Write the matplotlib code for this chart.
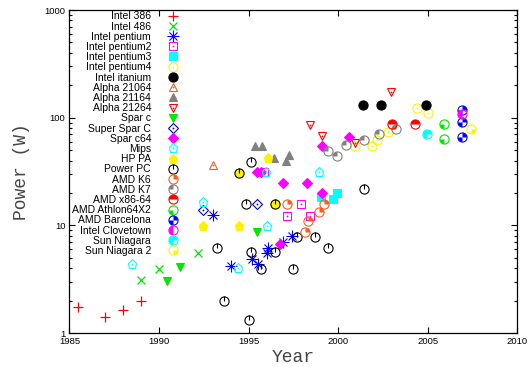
import numpy as np
import matplotlib
matplotlib.use("Agg")
import matplotlib.pyplot as plt
from matplotlib.path import Path
from matplotlib.ticker import FixedLocator, LogLocator, NullFormatter, FixedFormatter

plt.rcParams['font.family'] = ['Liberation Sans', 'DejaVu Sans']

# year / power (W) per processor family
i386_yr = [1985.5, 1987.0, 1988.0, 1989.0]
i386_w = [1.75, 1.4, 1.65, 2.0]
i486_yr = [1989.0, 1990.0, 1992.2]
i486_w = [3.1, 3.9, 5.5]
pent_yr = [1993.0, 1994.0, 1995.2, 1995.5, 1996.0, 1996.1, 1996.9, 1997.4]
pent_w = [12.5, 4.2, 4.9, 4.4, 5.5, 6.1, 7.0, 8.0]
pent2_yr = [1995.85, 1997.15, 1997.9, 1998.45]
pent2_w = [31, 12.3, 15.7, 12.3]
pent3_yr = [1999.05, 1999.7, 1999.95]
pent3_w = [18.4, 17.5, 19.8]
pent4_yr = [2000.95, 2001.9, 2002.15, 2002.75, 2004.4, 2005.0]
pent4_w = [54.5, 54.8, 62, 73, 122, 110]
itan_yr = [2001.4, 2002.4, 2004.9]
itan_w = [131, 131, 131]
a21064_yr = [1993.0]
a21064_w = [36]
a21164_yr = [1995.35, 1995.75, 1996.4, 1997.1, 1997.25]
a21164_w = [55, 55, 42, 40, 45]
a21264_yr = [1998.4, 1999.1, 2000.95, 2002.95]
a21264_w = [85, 68, 58.5, 172]
sparc_yr = [1990.45, 1991.15, 1995.45]
sparc_w = [3.05, 4.1, 8.7]
ssparc_yr = [1992.45, 1995.45]
ssparc_w = [13.9, 15.7]
sparc64_yr = [1995.45, 1995.7, 1996.75, 1996.9, 1998.25, 1999.1, 1999.1, 2000.6]
sparc64_w = [31, 31, 6.7, 24.5, 24.5, 19.8, 55, 66.5]
mips_yr = [1988.5, 1992.45, 1994.4, 1995.95, 1996.0, 1998.95]
mips_w = [4.4, 16.6, 4.0, 31, 9.9, 31]
hppa_yr = [1992.45, 1994.45, 1994.45, 1996.1, 1996.45]
hppa_w = [9.9, 9.9, 30.8, 42, 15.7]
ppc_yr = [1993.25, 1993.65, 1994.45, 1994.85, 1995.0, 1995.15, 1995.15, 1995.7,
          1996.45, 1996.45, 1997.45, 1997.7, 1998.7, 1999.45, 2001.45]
ppc_w = [6.2, 2.0, 30.8, 15.7, 1.32, 5.6, 39, 3.9, 5.6, 15.7, 3.9, 7.8, 7.8, 6.2, 21.7]
k6_yr = [1997.15, 1998.15, 1998.3, 1998.95, 1999.2]
k6_w = [15.7, 8.7, 11.0, 13.2, 15.7]
k7_yr = [1999.45, 1999.95, 2000.45, 2001.45, 2002.3, 2003.2]
k7_w = [49, 44, 56, 62, 70, 78]
x8664_yr = [2003.0, 2004.3]
x8664_w = [87, 87]
x2_yr = [2005.9, 2005.9]
x2_w = [87, 63]
barc_yr = [2006.9, 2006.9, 2006.9]
barc_w = [119, 92, 66]
clove_yr = [2006.9]
clove_w = [108]
nia_yr = [2004.95]
nia_w = [70]
nia2_yr = [2007.4]
nia2_w = [78]

RED, GREEN, BLUE = '#ff0000', '#00e600', '#0000ff'
MAG, CYAN, YEL = '#ff00ff', '#00ffff', '#fff200'
BLK, ORA, GRY = '#000000', '#ff5a1e', '#808080'

series = [
    ('Intel 386', i386_yr, i386_w, 'plus', RED),
    ('Intel 486', i486_yr, i486_w, 'cross', GREEN),
    ('Intel pentium', pent_yr, pent_w, 'star', BLUE),
    ('Intel pentium2', pent2_yr, pent2_w, 's_open', MAG),
    ('Intel pentium3', pent3_yr, pent3_w, 's_fill', CYAN),
    ('Intel pentium4', pent4_yr, pent4_w, 'o_open', YEL),
    ('Intel itanium', itan_yr, itan_w, 'o_fill', BLK),
    ('Alpha 21064', a21064_yr, a21064_w, '^_open', ORA),
    ('Alpha 21164', a21164_yr, a21164_w, '^_fill', GRY),
    ('Alpha 21264', a21264_yr, a21264_w, 'v_open', RED),
    ('Spar c', sparc_yr, sparc_w, 'v_fill', GREEN),
    ('Super Spar C', ssparc_yr, ssparc_w, 'D_open', BLUE),
    ('Spar c64', sparc64_yr, sparc64_w, 'D_fill', MAG),
    ('Mips', mips_yr, mips_w, 'p_open', CYAN),
    ('HP PA', hppa_yr, hppa_w, 'p_fill', YEL),
    ('Power PC', ppc_yr, ppc_w, 'C0', BLK),
    ('AMD K6', k6_yr, k6_w, 'C1', ORA),
    ('AMD K7', k7_yr, k7_w, 'C2', GRY),
    ('AMD x86-64', x8664_yr, x8664_w, 'C3', RED),
    ('AMD Athlon64X2', x2_yr, x2_w, 'C4', GREEN),
    ('AMD Barcelona', barc_yr, barc_w, 'C5', BLUE),
    ('Intel Clovetown', clove_yr, clove_w, 'C6', MAG),
    ('Sun Niagara', nia_yr, nia_w, 'C7', CYAN),
    ('Sun Niagara 2', nia2_yr, nia2_w, 'C8', YEL),
]

# quadrants filled for the gnuplot-like circle symbols
wedges = {
    'C1': [(0, 90)], 'C2': [(90, 180)], 'C3': [(0, 180)], 'C4': [(180, 270)],
    'C5': [(0, 90), (180, 270)], 'C6': [(90, 270)], 'C7': [(0, 270)],
    'C8': [(270, 360)],
}

MS = 6.6
LW = 0.8


def draw(ax, x, y, kind, c):
    arts = []
    if kind == 'plus':
        arts += ax.plot(x, y, ls='none', marker='+', ms=7, mew=0.9, color=c)
    elif kind == 'cross':
        arts += ax.plot(x, y, ls='none', marker='x', ms=6, mew=0.9, color=c)
    elif kind == 'star':
        arts += ax.plot(x, y, ls='none', marker='+', ms=8, mew=LW, color=c)
        arts += ax.plot(x, y, ls='none', marker='x', ms=6, mew=LW, color=c)
    elif kind.endswith('_open') or kind.endswith('_fill'):
        m = kind[0]
        size = {'s': 6.0, 'o': MS, '^': 6.4, 'v': 6.4, 'D': 5.2, 'p': 6.8}[m]
        fc = 'none' if kind.endswith('_open') else c
        arts += ax.plot(x, y, ls='none', marker=m, ms=size, mew=LW, mec=c, mfc=fc)
        if kind.endswith('_open'):
            arts += ax.plot(x, y, ls='none', marker='o', ms=1.3, mew=0, mfc=c)
    else:
        arts += ax.plot(x, y, ls='none', marker='o', ms=MS, mew=LW, mec=c, mfc='none')
        if kind == 'C0':
            tick = Path([(0, 0), (0, 1), (0, -1)], [Path.MOVETO, Path.LINETO, Path.MOVETO])
            arts += ax.plot(x, y, ls='none', marker=tick, ms=MS, mew=LW, mec=c)
        else:
            path = Path.make_compound_path(*[Path.wedge(a, b) for a, b in wedges[kind]])
            arts += ax.plot(x, y, ls='none', marker=path, ms=MS * 0.98, mew=0, mfc=c)
    return tuple(arts)


fig = plt.figure(figsize=(5.32, 3.67), dpi=100)
ax = fig.add_axes([0.1306, 0.0926, 0.842, 0.880])

handles, labels = [], []
for name, xs, ys, kind, col in series:
    handles.append(draw(ax, xs, ys, kind, col))
    labels.append(name)

ax.set_yscale('log')
ax.set_xlim(1985, 2010)
ax.set_ylim(1, 1000)
ax.xaxis.set_major_locator(FixedLocator([1985, 1990, 1995, 2000, 2005, 2010]))
ax.yaxis.set_major_locator(FixedLocator([1, 10, 100, 1000]))
ax.yaxis.set_major_formatter(FixedFormatter(['1', '10', '100', '1000']))
ax.yaxis.set_minor_locator(LogLocator(base=10, subs=np.arange(2, 10)))
ax.yaxis.set_minor_formatter(NullFormatter())
ax.tick_params(which='both', direction='in', top=True, right=True, labelsize=6.8, width=0.8)
ax.tick_params(which='major', length=4.5, pad=3)
ax.tick_params(which='minor', length=2.5)
for s in ax.spines.values():
    s.set_linewidth(0.9)

ax.set_xlabel('Year', family='Liberation Mono', fontsize=13, color='#444444', labelpad=2)
ax.set_ylabel('Power (W)', family='Liberation Mono', fontsize=13, color='#444444', labelpad=10)

leg = ax.legend(handles, labels, loc='upper right', bbox_to_anchor=(0.2455, 1.0),
                frameon=False, markerfirst=False, fontsize=7.5, labelspacing=0.02,
                handlelength=1.0, handletextpad=1.6, borderpad=0.12, borderaxespad=0)

fig.savefig('out.png', dpi=100)
